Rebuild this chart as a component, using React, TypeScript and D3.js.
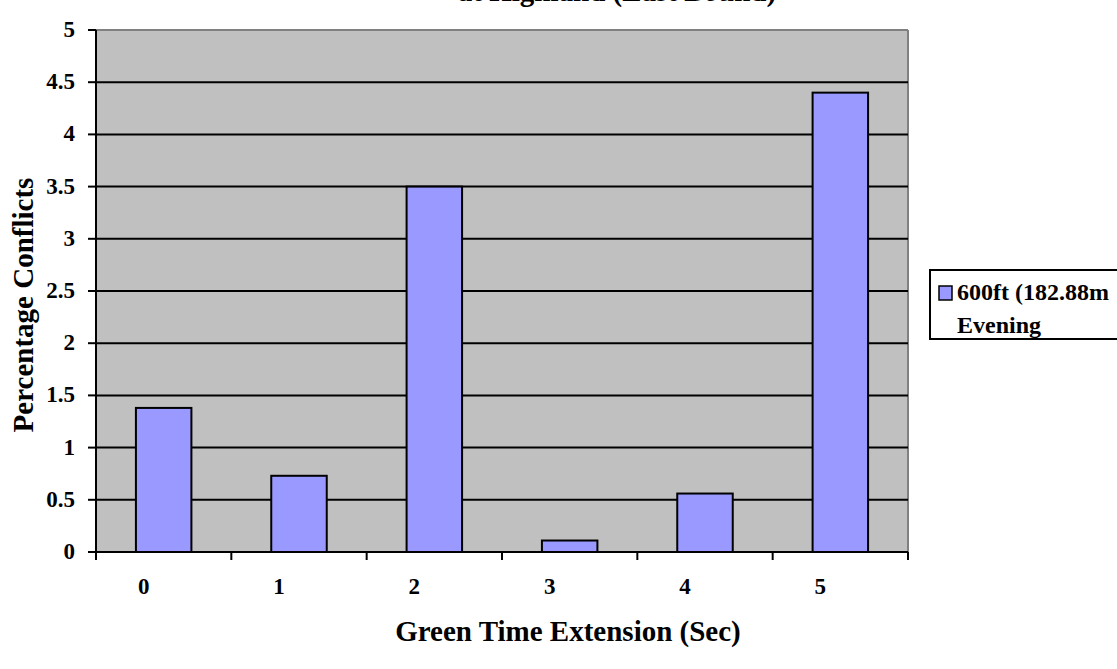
import React from "react";
import * as d3 from "d3";

const categories = ["0", "1", "2", "3", "4", "5"];
const values = [1.38, 0.73, 3.5, 0.11, 0.56, 4.4];
const yTicks = [0, 0.5, 1, 1.5, 2, 2.5, 3, 3.5, 4, 4.5, 5];
const seriesName = "600ft (182.88m";
const seriesName2 = "Evening";

export default function App() {
  const W = 1117, H = 669;
  const left = 96, right = 908, top = 30, bottom = 552;
  const x = d3.scaleBand<string>().domain(categories).range([left, right]).paddingInner(0.59).paddingOuter(0.295);
  const xb = d3.scaleBand<string>().domain(categories).range([left, right]);
  const y = d3.scaleLinear().domain([0, 5]).range([bottom, top]);
  const font = "'Liberation Serif', 'Times New Roman', serif";
  return (
    <svg width={W} height={H} style={{ position: "absolute", left: 0, top: 0 }} fontFamily={font}>
      <rect x={0} y={0} width={W} height={H} fill="#fff" />
      <text x={617} y={1} textAnchor="middle" fontWeight="bold" fontSize={29}>at Highland (East Bound)</text>
      <rect x={left} y={top} width={right - left} height={bottom - top} fill="#c0c0c0" />
      <line x1={left} x2={right} y1={top} y2={top} stroke="#808080" strokeWidth={2} />
      <line x1={right} x2={right} y1={top} y2={bottom} stroke="#808080" strokeWidth={2} />
      {yTicks.filter(t => t > 0 && t < 5).map(t => (
        <line key={t} x1={left} x2={right} y1={y(t)} y2={y(t)} stroke="#000" strokeWidth={2} />
      ))}
      {categories.map((c, i) => (
        <rect key={c} x={x(c)} y={y(values[i])} width={x.bandwidth()} height={bottom - y(values[i])}
          fill="#9999ff" stroke="#000" strokeWidth={2} />
      ))}
      <line x1={left} x2={left} y1={top} y2={bottom} stroke="#000" strokeWidth={2} />
      <line x1={left - 8} x2={right} y1={bottom} y2={bottom} stroke="#000" strokeWidth={2} />
      {yTicks.map(t => (
        <g key={t}>
          <line x1={left - 8} x2={left} y1={y(t)} y2={y(t)} stroke="#000" strokeWidth={2} />
          <text x={75} y={y(t) + 7} textAnchor="end" fontWeight="bold" fontSize={23}>{t}</text>
        </g>
      ))}
      {categories.map(c => (
        <line key={"t" + c} x1={xb(c)} x2={xb(c)} y1={bottom} y2={bottom + 8} stroke="#000" strokeWidth={2} />
      ))}
      <line x1={right} x2={right} y1={bottom} y2={bottom + 8} stroke="#000" strokeWidth={2} />
      {categories.map(c => (
        <text key={"l" + c} x={(xb(c) as number) + xb.bandwidth() / 2 - 20} y={594} textAnchor="middle" fontWeight="bold" fontSize={23}>{c}</text>
      ))}
      <text x={568} y={641} textAnchor="middle" fontWeight="bold" fontSize={29}>Green Time Extension (Sec)</text>
      <text transform="translate(33,305) rotate(-90)" textAnchor="middle" fontWeight="bold" fontSize={29}>Percentage Conflicts</text>
      <rect x={930} y={270} width={190} height={69} fill="#fff" stroke="#000" strokeWidth={2} />
      <rect x={939} y={286} width={13} height={14} fill="#9999ff" stroke="#000" strokeWidth={1.5} />
      <text x={957} y={300} fontWeight="bold" fontSize={24}>{seriesName}</text>
      <text x={957} y={333} fontWeight="bold" fontSize={24}>{seriesName2}</text>
    </svg>
  );
}
